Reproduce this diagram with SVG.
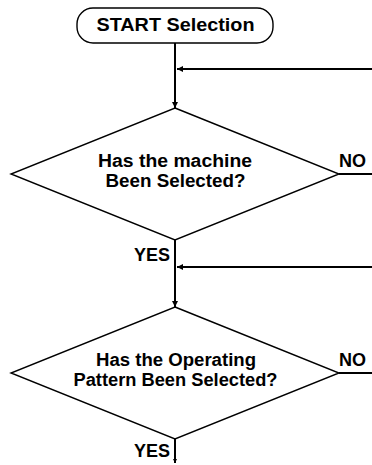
<svg xmlns="http://www.w3.org/2000/svg" width="372" height="465" viewBox="0 0 372 465">
  <style>
    .shape { fill: #ffffff; stroke: #000000; stroke-width: 1.4; }
    .flow { fill: none; stroke: #000000; stroke-width: 2; }
    .lbl { font-family: "Liberation Sans", Arial, Helvetica, sans-serif; font-weight: bold; font-size: 18px; fill: #000000; }
    .mid { text-anchor: middle; }
    .end { text-anchor: end; }
  </style>
  <defs>
    <marker id="arrowDown" viewBox="0 0 10 10" refX="10" refY="5" markerWidth="10" markerHeight="6" markerUnits="userSpaceOnUse" orient="auto">
      <path d="M0,0 L10,5 L0,10 Z" fill="#000000"/>
    </marker>
    <marker id="arrowLeft" viewBox="0 0 10 10" refX="10" refY="5" markerWidth="8" markerHeight="6" markerUnits="userSpaceOnUse" orient="auto">
      <path d="M0,0 L10,5 L0,10 Z" fill="#000000"/>
    </marker>
    <marker id="arrowSmall" viewBox="0 0 10 10" refX="10" refY="5" markerWidth="5" markerHeight="4" markerUnits="userSpaceOnUse" orient="auto">
      <path d="M0,0 L10,5 L0,10 Z" fill="#000000"/>
    </marker>
  </defs>

  <!-- connectors -->
  <g id="connectors">
    <line class="flow" x1="175" y1="43" x2="175" y2="108" marker-end="url(#arrowDown)"/>
    <line class="flow" x1="372" y1="69" x2="177" y2="69" marker-end="url(#arrowLeft)"/>
    <line class="flow" x1="339" y1="174" x2="372" y2="174"/>
    <line class="flow" x1="175" y1="240" x2="175" y2="307" marker-end="url(#arrowDown)"/>
    <line class="flow" x1="372" y1="267" x2="177" y2="267" marker-end="url(#arrowLeft)"/>
    <line class="flow" x1="339" y1="373" x2="372" y2="373"/>
    <line class="flow" x1="175" y1="438" x2="175" y2="463" marker-end="url(#arrowSmall)"/>
  </g>

  <!-- start terminal -->
  <g id="start">
    <rect class="shape" x="77" y="8" width="196" height="35" rx="16" ry="16"/>
    <text class="lbl mid" x="175.5" y="31" textLength="158" lengthAdjust="spacingAndGlyphs">START Selection</text>
  </g>

  <!-- decision: machine -->
  <g id="decision-machine">
    <polygon class="shape" points="175,108 339,174 175,240 11,174"/>
    <text class="lbl mid" x="175" y="167" textLength="154" lengthAdjust="spacingAndGlyphs">Has the machine</text>
    <text class="lbl mid" x="175.5" y="187" textLength="140" lengthAdjust="spacingAndGlyphs">Been Selected?</text>
    <text class="lbl" x="339" y="167">NO</text>
    <text class="lbl end" x="170" y="261">YES</text>
  </g>

  <!-- decision: operating pattern -->
  <g id="decision-pattern">
    <polygon class="shape" points="175,307 339,373 175,439 11,373"/>
    <text class="lbl mid" x="176" y="366" textLength="160" lengthAdjust="spacingAndGlyphs">Has the Operating</text>
    <text class="lbl mid" x="175.5" y="386" textLength="204" lengthAdjust="spacingAndGlyphs">Pattern Been Selected?</text>
    <text class="lbl" x="339" y="366">NO</text>
    <text class="lbl end" x="170" y="457">YES</text>
  </g>
</svg>
